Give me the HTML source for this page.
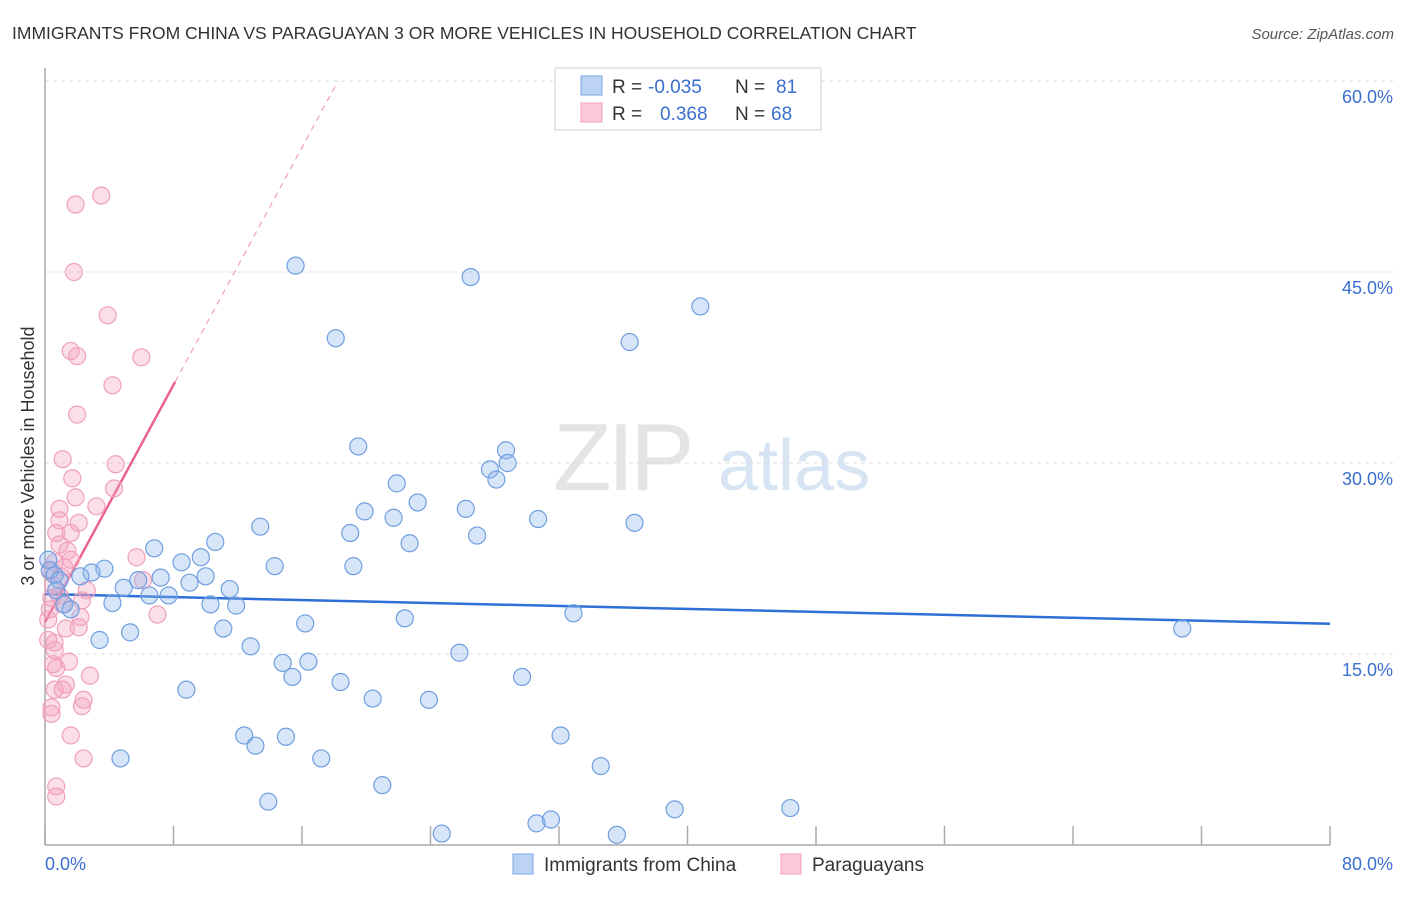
<!DOCTYPE html>
<html><head><meta charset="utf-8"><style>
body{margin:0;background:#fff;font-family:"Liberation Sans",sans-serif}
svg text{font-family:"Liberation Sans",sans-serif}
</style></head><body>
<svg id="chart" width="1406" height="892" xmlns="http://www.w3.org/2000/svg">
<text x="12" y="39" font-size="17.5" fill="#333">IMMIGRANTS FROM CHINA VS PARAGUAYAN 3 OR MORE VEHICLES IN HOUSEHOLD CORRELATION CHART</text>
<text x="1394" y="39" font-size="15" fill="#555" font-style="italic" text-anchor="end">Source: ZipAtlas.com</text>
<g>
<text x="553" y="490" font-size="96" fill="#e4e4e4" font-family="Liberation Serif" letter-spacing="-4">ZIP</text>
<text x="718" y="490" font-size="72" fill="#d6e4f4">atlas</text>
</g>
<g id="grid"></g>
<g id="axes"></g>
<g id="lines"></g>
<g id="pts"></g>
<text transform="translate(34,456) rotate(-90)" font-size="18" fill="#333" text-anchor="middle">3 or more Vehicles in Household</text>
<text x="45" y="870" font-size="18" fill="#3a6fd0">0.0%</text>
<text x="1393" y="870" font-size="18" fill="#3a6fd0" text-anchor="end">80.0%</text>
<g>
<rect x="555" y="68" width="266" height="62" fill="#fff" stroke="#ccc"/>
<rect x="581" y="76" width="21" height="19" fill="#bcd3f5" stroke="#7aa6e6"/>
<rect x="581" y="103" width="21" height="19" fill="#fbcad9" stroke="#f0a0bb"/>
<text x="612" y="93" font-size="19" fill="#333">R = </text><text x="648" y="93" font-size="19" fill="#3a6fd0">-0.035</text>
<text x="735" y="93" font-size="19" fill="#333">N = </text><text x="776" y="93" font-size="19" fill="#3a6fd0">81</text>
<text x="612" y="120" font-size="19" fill="#333">R = </text><text x="660" y="120" font-size="19" fill="#3a6fd0">0.368</text>
<text x="735" y="120" font-size="19" fill="#333">N = </text><text x="771" y="120" font-size="19" fill="#3a6fd0">68</text>
</g>
<g>
<rect x="513" y="854" width="20" height="20" fill="#bcd3f5" stroke="#7aa6e6"/>
<text x="544" y="871" font-size="19" fill="#333">Immigrants from China</text></g>
<g>
<rect x="781" y="854" width="20" height="20" fill="#fbcad9" stroke="#f0a0bb"/>
<text x="812" y="871" font-size="19" fill="#333">Paraguayans</text></g>
</svg>
<script>
const blueX=[15.6,26.5,40.8,18.1,36.4,19.5,28.7,27.7,28.8,28.1,21.9,23.2,19.9,26.2,21.7,30.7,36.7,13.4,19.0,26.9,22.7,6.8,10.6,9.7,8.5,14.3,19.2,3.7,2.9,2.2,7.2,10.0,5.8,9.0,4.9,11.5,6.5,7.7,4.2,10.3,11.9,32.9,22.4,16.2,11.1,5.3,3.4,12.8,25.8,14.8,16.4,15.4,29.7,18.4,8.8,20.4,23.9,12.4,15.0,13.1,32.1,4.7,17.2,34.6,21.0,13.9,39.2,46.4,24.7,30.6,31.5,35.6,70.8,0.3,0.6,0.9,1.2,0.2,0.7,1.6];
const blueY=[45.5,44.6,42.3,39.8,39.5,31.3,31.0,29.5,30.0,28.7,28.4,26.9,26.2,26.4,25.7,25.6,25.3,25.0,24.5,24.3,23.7,23.3,23.8,22.6,22.2,21.9,21.9,21.7,21.4,21.1,21.0,21.1,20.8,20.6,20.2,20.1,19.6,19.6,19.0,18.9,18.8,18.2,17.8,17.4,17.0,16.7,16.1,15.6,15.1,14.3,14.4,13.2,13.2,12.8,12.2,11.5,11.4,8.6,8.5,7.8,8.6,6.8,6.8,6.2,4.7,3.4,2.8,2.9,0.9,1.7,2.0,0.8,17.0,21.6,21.2,20.8,18.9,22.4,20.0,18.5];
const pinkX=[3.5,1.9,1.8,3.9,1.6,2.0,6.0,4.2,2.0,1.1,4.4,4.3,1.7,1.9,3.2,0.9,2.1,0.9,0.7,1.6,0.9,1.4,5.7,1.6,0.6,1.2,0.3,1.0,6.1,0.5,2.6,0.9,0.4,2.3,1.1,7.0,2.2,0.2,2.1,1.3,0.2,0.6,1.5,0.5,0.7,2.8,1.3,0.6,2.4,0.4,2.3,0.4,1.6,2.4,0.7,0.7,0.3,0.6,1.1];
const pinkY=[51.0,50.3,45.0,41.6,38.8,38.4,38.3,36.1,33.8,30.3,29.9,28.0,28.8,27.3,26.6,26.4,25.3,25.5,24.5,24.5,23.6,23.1,22.6,22.4,22.2,21.8,21.5,21.1,20.8,20.4,20.0,19.6,19.4,19.2,18.9,18.1,17.9,17.7,17.1,17.0,16.1,15.9,14.4,14.2,13.9,13.3,12.6,12.2,11.4,10.8,10.9,10.3,8.6,6.8,4.6,3.8,18.5,15.3,12.2];
const blueTrend=[19.7,-0.029];
const pinkTrend=[17.5,2.33];
const yTicks=[15,30,45,60];
const xTicks=[0,8,16,24,32,40,48,56,64,72,80];
const NS="http://www.w3.org/2000/svg";
const X=v=>45+v*1285/80, Y=v=>845-v*764/60;
function mk(p,t,a){const e=document.createElementNS(NS,t);for(const k in a)e.setAttribute(k,a[k]);document.getElementById(p).appendChild(e);return e;}
yTicks.forEach(t=>{
 const l=mk('grid','line',{x1:45,x2:1393,y1:Y(t),y2:Y(t),stroke:'#ddd','stroke-dasharray':'4,4'});
 
 
 const tx=mk('grid','text',{x:1393,y:Y(t)+22,'font-size':18,fill:'#3a6fd0','text-anchor':'end'});
 tx.textContent=t.toFixed(1)+'%';
 
 
});
let a=mk('axes','line',{x1:45,x2:45,y1:68,y2:845,stroke:'#aaa','stroke-width':1.5});


a=mk('axes','line',{x1:45,x2:1330,y1:845,y2:845,stroke:'#aaa','stroke-width':1.5});


xTicks.forEach(t=>{const l=mk('axes','line',{x1:X(t),x2:X(t),y1:826,y2:845,stroke:'#aaa','stroke-width':1.5});
 
 });
function dots(xs,ys,fill,stroke,name){xs.forEach((x,i)=>{const c=mk('pts','circle',{cx:X(x),cy:Y(ys[i]),r:8.5,fill:fill,stroke:stroke,'stroke-width':1.2});
 
 });}
dots(pinkX,pinkY,'rgba(244,160,188,0.35)','#f0a0bb','paraguayan-point');
dots(blueX,blueY,'rgba(140,180,235,0.35)','#6f9fe0','china-point');
let ln=mk('lines','line',{x1:X(0),y1:Y(blueTrend[0]),x2:X(80),y2:Y(blueTrend[0]+blueTrend[1]*80),stroke:'#2d6fd6','stroke-width':2.5});


ln=mk('lines','line',{x1:X(0),y1:Y(pinkTrend[0]),x2:X(8.1),y2:Y(pinkTrend[0]+pinkTrend[1]*8.1),stroke:'#e8648f','stroke-width':2.5});


const xe=(60-pinkTrend[0])/pinkTrend[1];
ln=mk('lines','line',{x1:X(8.1),y1:Y(pinkTrend[0]+pinkTrend[1]*8.1),x2:X(xe),y2:Y(60),stroke:'#f0a0bb','stroke-width':1.2,'stroke-dasharray':'6,5'});


</script>
</body></html>
